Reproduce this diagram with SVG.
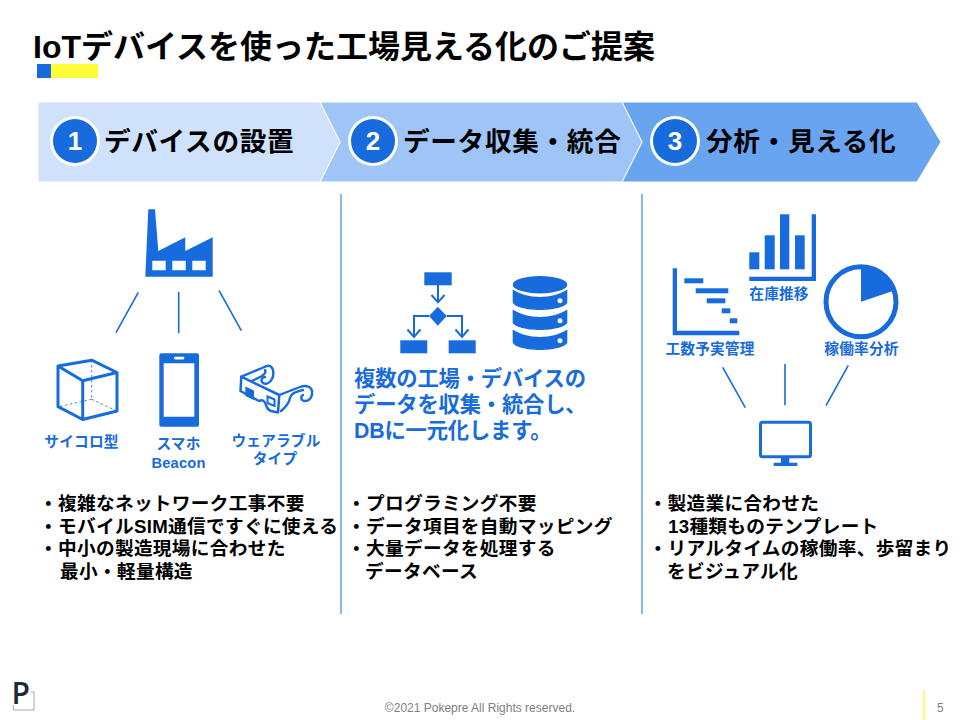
<svg xmlns="http://www.w3.org/2000/svg" width="960" height="720" viewBox="0 0 960 720">
<style>
text{font-family:"Liberation Sans","Noto Sans CJK JP",sans-serif;font-weight:700}
.b{fill:#176bdc}
.k{fill:#000}
.title{font-size:32px}
.step{font-size:26.67px;letter-spacing:.65px}
.num{font-size:26px;fill:#fff;text-anchor:middle}
.lab{font-size:14.67px;fill:#176bdc;text-anchor:middle;letter-spacing:.2px}
.body{font-size:18.67px;fill:#000;letter-spacing:.32px}
.mid{font-size:21.33px;fill:#176bdc;letter-spacing:-.2px}
.foot{font-size:12px;fill:#808080;font-weight:400}
.link{stroke:#176bdc;stroke-width:1.6;fill:none}
.div{stroke:#6fa5e8;stroke-width:1.6;fill:none}
.ol{fill:none;stroke:#176bdc}
</style>
<rect width="960" height="720" fill="#fff"/>
<g id="title">
<text class="title k" x="33" y="58">IoTデバイスを使った工場見える化のご提案</text>
<rect x="37" y="64" width="14" height="14" fill="#176bdc"/>
<rect x="51" y="64" width="47" height="14" fill="#fffc38"/>
</g>
<g id="step3">
<polygon points="622,102 917,102 941,142 917,182 622,182 642,142" fill="#68a4f0" stroke="#fff" stroke-width="1"/>
<circle cx="675" cy="141" r="25" fill="#fff"/><circle cx="675" cy="141" r="22" fill="#176bdc"/>
<text class="num" x="675" y="150">3</text>
<text class="step k" x="706" y="151">分析・見える化</text>
</g>
<g id="step2">
<polygon points="320,102 622,102 642,142 622,182 320,182 340,142" fill="#9fc5f7" stroke="#fff" stroke-width="1"/>
<circle cx="373" cy="141" r="25" fill="#fff"/><circle cx="373" cy="141" r="22" fill="#176bdc"/>
<text class="num" x="373" y="150">2</text>
<text class="step k" x="403" y="151">データ収集・統合</text>
</g>
<g id="step1">
<polygon points="38,102 320,102 340,142 320,182 38,182" fill="#d0e1fb" stroke="#fff" stroke-width="1"/>
<circle cx="75" cy="141" r="25" fill="#fff"/><circle cx="75" cy="141" r="22" fill="#176bdc"/>
<text class="num" x="75" y="150">1</text>
<text class="step k" x="104" y="151">デバイスの設置</text>
</g>
<g id="connectors">
<path class="div" d="M341 194V614M642 194V614"/>
<path class="link" d="M138.3 292.3L116 332.7M178.7 292V333.3M219 290.3L241.3 330.7"/>
<path class="link" d="M722.7 367.3L745.3 407.7M785 364V405.3M848.3 365.3L826 405.7"/>
</g>
<g id="factory">
<path class="b" fill-rule="evenodd" d="M148.3 209.3H155L158.3 251L185.3 237.3V251L212.7 237.3V276.7H145.3ZM152.3 260.7V270.3H165.7V260.7ZM172.3 260.7V270.3H185.7V260.7ZM192.3 260.7V270.3H205.7V260.7Z"/>
</g>
<g id="cube">
<path class="ol" stroke-width="3" stroke-linejoin="round" d="M58 366L91.7 360.2L117 372.5V411L82.7 419.5L58 406.7ZM58 366L82.7 380.7L117 372.5M82.7 380.7V419.5"/>
<path class="ol" stroke-width="0.8" stroke-dasharray="2.5 2.5" d="M91.7 360V399.3M91.7 399.3L58 406.7M91.7 399.3L117 411"/>
<text class="lab" x="81.5" y="447">サイコロ型</text>
</g>
<g id="phone">
<path class="b" fill-rule="evenodd" d="M161.3 353.3H197a2 2 0 0 1 2 2V424.7a2 2 0 0 1-2 2H161.3a2 2 0 0 1-2-2V355.3a2 2 0 0 1 2-2ZM163.7 363.3V416.7H194.3V363.3Z"/>
<rect x="174" y="356.7" width="10.3" height="2.7" rx="1.3" fill="#fff"/>
<text class="lab" x="178.5" y="449">スマホ</text>
<text class="lab" x="178.5" y="468">Beacon</text>
</g>
<g id="glasses">
<path class="ol" stroke-width="2.4" stroke-linecap="round" stroke-linejoin="round" d="M241.3 376.700L262 368C266 366 268 365 270 366C274 368 274 375 272 379C270 383 266 385 263 383C260 381 262 377 265 377"/>
<path class="ol" stroke-width="2.4" stroke-linecap="round" stroke-linejoin="round" d="M251 381.500L262 376C265 374 266 372 265 370"/>
<path class="ol" stroke-width="2.400" stroke-linecap="round" stroke-linejoin="round" d="M279.300 395L300 387C305 385 311 386 312 391C313 396 310 401 305 401C301 401 300 397 303 395"/>
<path class="ol" stroke-width="2.400" stroke-linecap="round" stroke-linejoin="round" d="M281 411C286 407 289 403 290 398C291 393 296 392 303 390"/>
<path d="M241.300 376.700L279.300 395L278 412.500L271 411C268 410 267 408 266 405C265 401 262 399 259 401L240.500 391Z" fill="#fff" stroke="#176bdc" stroke-width="2.500" stroke-linejoin="round"/>
<path class="b" d="M245.300 386.500L254 390.500V400L245.300 396Z"/>
<path d="M267.500 396.500L274.500 399.500V406L267.500 403Z" fill="#fff" stroke="#176bdc" stroke-width="2"/>
<text class="lab" x="276" y="446">ウェアラブル</text>
<text class="lab" x="275" y="464">タイプ</text>
</g>
<g id="flowchart">
<rect class="b" x="424.3" y="272.3" width="27.4" height="13"/>
<path class="b" d="M437.8 306.7L446.7 316L437.8 325.7L429 316Z"/>
<rect class="b" x="400.3" y="340.3" width="27" height="13"/>
<rect class="b" x="448.7" y="340.3" width="27" height="13"/>
<path class="ol" stroke-width="2" d="M438 285V302M431.5 295L438 302.3L444.5 295M429 316H414V337M407.5 329.5L414 337L420.5 329.5M446.7 316H462V337M455.5 329.5L462 337L468.5 329.5"/>
</g>
<g id="database">
<ellipse class="b" cx="540" cy="284.7" rx="27.3" ry="8.7"/>
<path class="b" d="M512.7 289.5C519 294 530 297 540 297C550 297 561 294 567.3 289.5V302C567.3 307 552 310 540 310C528 310 512.7 307 512.7 302Z"/>
<path class="b" d="M512.7 309.5C519 314 530 317 540 317C550 317 561 314 567.3 309.5V322C567.3 327 552 330 540 330C528 330 512.7 327 512.7 322Z"/>
<path class="b" d="M512.7 329.5C519 334 530 337 540 337C550 337 561 334 567.3 329.5V342C567.3 347 552 350 540 350C528 350 512.7 347 512.7 342Z"/>
<circle cx="560" cy="300.7" r="2.5" fill="#fff"/><circle cx="560" cy="320.7" r="2.5" fill="#fff"/><circle cx="560" cy="340.7" r="2.5" fill="#fff"/>
</g>
<g id="mid-text">
<text class="mid" x="354" y="386">複数の工場・デバイスの</text>
<text class="mid" x="354" y="412">データを収集・統合し、</text>
<text class="mid" x="354" y="438">DBに一元化します。</text>
</g>
<g id="bars">
<path class="b" d="M811.7 214.3H816V281H749.3V276.7H811.7Z"/>
<rect class="b" x="749.3" y="252.3" width="10" height="17"/>
<rect class="b" x="764.7" y="235.3" width="10" height="34"/>
<rect class="b" x="780" y="214.3" width="9.3" height="55"/>
<rect class="b" x="795" y="235.3" width="9.7" height="34"/>
<text class="lab" x="779" y="299">在庫推移</text>
</g>
<g id="gantt">
<path class="b" d="M672.7 268.3H677V330.7H739.3V335.3H672.7Z"/>
<rect class="b" x="684.3" y="278.3" width="19" height="5"/>
<rect class="b" x="695.7" y="288.3" width="32.6" height="5"/>
<rect class="b" x="706.7" y="298.3" width="18.6" height="5"/>
<rect class="b" x="721.7" y="308.3" width="8.6" height="5"/>
<rect class="b" x="729.7" y="318.3" width="7.6" height="5"/>
<text class="lab" x="710" y="354">工数予実管理</text>
</g>
<g id="pie">
<circle class="ol" cx="861" cy="301.7" r="35" stroke-width="5"/>
<path class="b" d="M861 301.7V267A35 35 0 0 1 893 291Z"/>
<text class="lab" x="861.5" y="354">稼働率分析</text>
</g>
<g id="monitor">
<rect class="ol" x="760.5" y="422.2" width="50" height="34.6" rx="2" stroke-width="3"/>
<rect class="b" x="781" y="458" width="8.3" height="5.5"/>
<rect class="b" x="773.7" y="462.7" width="23.6" height="3.3"/>
</g>
<g id="col1">
<text class="body" x="39" y="510">・複雑なネットワーク工事不要</text>
<text class="body" x="39" y="533">・モバイルSIM通信ですぐに使える</text>
<text class="body" x="39" y="555">・中小の製造現場に合わせた</text>
<text class="body" x="60" y="578">最小・軽量構造</text>
</g>
<g id="col2">
<text class="body" x="347" y="510">・プログラミング不要</text>
<text class="body" x="347" y="533">・データ項目を自動マッピング</text>
<text class="body" x="347" y="555">・大量データを処理する</text>
<text class="body" x="365" y="578">データベース</text>
</g>
<g id="col3">
<text class="body" x="648.500" y="510">・製造業に合わせた</text>
<text class="body" x="668" y="533">13種類ものテンプレート</text>
<text class="body" x="648.500" y="555">・リアルタイムの稼働率、歩留まり</text>
<text class="body" x="667" y="578">をビジュアル化</text>
</g>
<g id="footer">
<text x="11.500" y="704" font-size="30" style="font-family:'Open Sans',sans-serif;font-weight:600" fill="#1c2b3c">P</text>
<path d="M31 692H34V710H13.3V705" fill="none" stroke="#8a94a0" stroke-width="0.8"/>
<text class="foot" x="480" y="712" text-anchor="middle">©2021 Pokepre All Rights reserved.</text>
<rect x="923" y="690" width="2" height="30" fill="#fffc70"/>
<text class="foot" x="937" y="712">5</text>
</g>
</svg>
